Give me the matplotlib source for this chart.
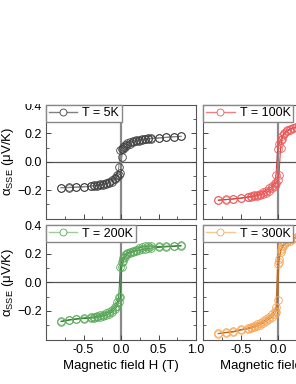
import matplotlib
matplotlib.use("Agg")
import matplotlib.pyplot as plt
from matplotlib.patches import Rectangle
from matplotlib.ticker import MultipleLocator

plt.rcParams["font.family"] = ["Liberation Sans", "DejaVu Sans"]
plt.rcParams["font.size"] = 9
plt.rcParams["mathtext.fontset"] = "custom"
plt.rcParams["mathtext.rm"] = "Liberation Sans"
plt.rcParams["mathtext.it"] = "Liberation Sans:italic"

# field sweep (T), same grid for both branches
H = [-0.80, -0.70, -0.60, -0.50, -0.40, -0.36, -0.32, -0.28, -0.24, -0.20, -0.16, -0.12,
     -0.08, -0.05, -0.03, -0.01, 0.01, 0.03, 0.05, 0.08, 0.12, 0.16, 0.20, 0.24,
     0.28, 0.32, 0.36, 0.40, 0.50, 0.60, 0.70, 0.80]

# alpha_SSE (uV/K): sweep up (from negative saturation) and sweep down
up_5K = [-0.184, -0.183, -0.180, -0.178, -0.173, -0.171, -0.168, -0.165, -0.161, -0.156, -0.149, -0.140,
         -0.125, -0.108, -0.095, -0.082, 0.030, 0.088, 0.102, 0.116, 0.128, 0.137, 0.144, 0.149,
         0.153, 0.157, 0.160, 0.162, 0.166, 0.171, 0.175, 0.178]
down_5K = [-0.182, -0.180, -0.178, -0.175, -0.170, -0.167, -0.164, -0.160, -0.155, -0.149, -0.141, -0.130,
           -0.112, -0.094, -0.040, 0.082, 0.092, 0.104, 0.117, 0.130, 0.140, 0.147, 0.152, 0.156,
           0.159, 0.162, 0.164, 0.166, 0.169, 0.173, 0.177, 0.180]

up_100K = [-0.272, -0.268, -0.263, -0.258, -0.251, -0.248, -0.244, -0.239, -0.233, -0.226, -0.217, -0.205,
           -0.188, -0.168, -0.148, -0.128, -0.095, 0.095, 0.160, 0.195, 0.215, 0.227, 0.236, 0.242,
           0.247, 0.251, 0.254, 0.257, 0.262, 0.266, 0.270, 0.273]
down_100K = [-0.270, -0.266, -0.261, -0.255, -0.246, -0.242, -0.237, -0.231, -0.224, -0.215, -0.203, -0.188,
             -0.172, -0.150, -0.090, 0.090, 0.125, 0.150, 0.180, 0.205, 0.222, 0.233, 0.241, 0.247,
             0.252, 0.255, 0.258, 0.261, 0.266, 0.269, 0.272, 0.275]

up_200K = [-0.276, -0.266, -0.259, -0.254, -0.251, -0.248, -0.245, -0.241, -0.236, -0.229, -0.220, -0.208,
           -0.190, -0.165, -0.135, -0.105, 0.105, 0.145, 0.175, 0.195, 0.206, 0.213, 0.219, 0.224,
           0.229, 0.233, 0.236, 0.239, 0.243, 0.247, 0.250, 0.253]
down_200K = [-0.272, -0.262, -0.255, -0.249, -0.245, -0.241, -0.237, -0.232, -0.226, -0.218, -0.208, -0.194,
             -0.172, -0.140, -0.100, 0.110, 0.140, 0.170, 0.192, 0.205, 0.213, 0.220, 0.228, 0.238,
             0.247, 0.250, 0.252, 0.253, 0.250, 0.252, 0.254, 0.257]

up_300K = [-0.360, -0.353, -0.348, -0.335, -0.326, -0.320, -0.313, -0.305, -0.296, -0.285, -0.272, -0.257,
           -0.240, -0.222, -0.205, -0.125, 0.140, 0.210, 0.240, 0.262, 0.278, 0.290, 0.300, 0.308,
           0.315, 0.321, 0.326, 0.330, 0.338, 0.345, 0.350, 0.355]
down_300K = [-0.357, -0.350, -0.343, -0.330, -0.318, -0.311, -0.303, -0.294, -0.284, -0.272, -0.258, -0.242,
             -0.222, -0.200, -0.170, 0.125, 0.160, 0.225, 0.252, 0.272, 0.288, 0.300, 0.310, 0.318,
             0.325, 0.331, 0.336, 0.340, 0.347, 0.352, 0.356, 0.360]

panels = [
    ("T = 5K", up_5K, down_5K, "#404040", "#808080"),
    ("T = 100K", up_100K, down_100K, "#ec5a5a", "#d03a3a"),
    ("T = 200K", up_200K, down_200K, "#5aa85a", "#2f7a2f"),
    ("T = 300K", up_300K, down_300K, "#f7a555", "#b8661a"),
]
legend_line = ["#808080", "#f08080", "#9ccc9c", "#f8c890"]

W, Hpx = 296, 384
fig = plt.figure(figsize=(W / 100, Hpx / 100), dpi=100)
lefts = [46 / W, 203.3 / W]
pw = 150 / W
rows = [(1 - 218.5 / Hpx, 113.5 / Hpx), (1 - 339.5 / Hpx, 114.5 / Hpx)]

for i, (label, up, down, mcol, lcol) in enumerate(panels):
    r, c = divmod(i, 2)
    ax = fig.add_axes([lefts[c], rows[r][0], pw, rows[r][1]])
    ax.axhline(0, color="#555555", lw=0.9, zorder=1)
    ax.axvline(0, color="#8a8a8a", lw=1.6, zorder=1)
    ax.plot(H, up, "-", color=lcol, lw=0.7, zorder=2)
    ax.plot(H[::-1], down[::-1], "-", color=lcol, lw=0.7, zorder=2)
    ax.plot(H, up, "o", mfc="none", mec=mcol, ms=5.5, mew=0.6, zorder=3)
    ax.plot(H, down, "o", mfc="none", mec=mcol, ms=5.5, mew=0.6, zorder=3)
    h, = ax.plot([], [], "-o", color=legend_line[i], mfc="white", mec=mcol, ms=5, mew=0.6, lw=1.0)
    ax.legend([h], [label], loc="upper left", borderaxespad=0, fancybox=False,
              edgecolor="#888888", framealpha=1, handlelength=2.3, handletextpad=0.4,
              borderpad=0.2, fontsize=9)

    ax.set_xlim(-1.0, 1.0)
    ax.set_ylim(-0.4, 0.4)
    ax.set_yticks([-0.2, 0.0, 0.2, 0.4])
    ax.yaxis.set_minor_locator(MultipleLocator(0.1))
    ax.xaxis.set_major_locator(MultipleLocator(0.5))
    ax.xaxis.set_minor_locator(MultipleLocator(0.25))
    ax.tick_params(which="both", direction="in", left=True, right=True, bottom=True, top=False,
                   colors="#444444", labelcolor="black", pad=3)
    ax.tick_params(which="major", length=3.5, width=0.7)
    ax.tick_params(which="minor", length=2, width=0.6)
    for s in ax.spines.values():
        s.set_color("#555555")
        s.set_linewidth(0.8)

    if c == 0:
        ax.set_ylabel("α$_{\\mathrm{SSE}}$ (μV/K)", fontsize=9.5)
        ax.yaxis.set_label_coords(-0.2, 0.5)
    else:
        ax.set_yticklabels([])
    if r == 1:
        ax.set_xticks([-0.5, 0.0, 0.5, 1.0])
        ax.set_xticklabels(["-0.5", "0.0", "0.5", "1.0"])
        ax.set_xlabel("Magnetic field H (T)", labelpad=3, fontsize=9.5)
    else:
        ax.set_xticklabels([])

# blank band at the top of the image
fig.add_artist(Rectangle((0, 1 - 103.5 / Hpx), 1, 1, transform=fig.transFigure,
                         facecolor="white", edgecolor="none", zorder=10))

fig.savefig("out.png", dpi=100)
